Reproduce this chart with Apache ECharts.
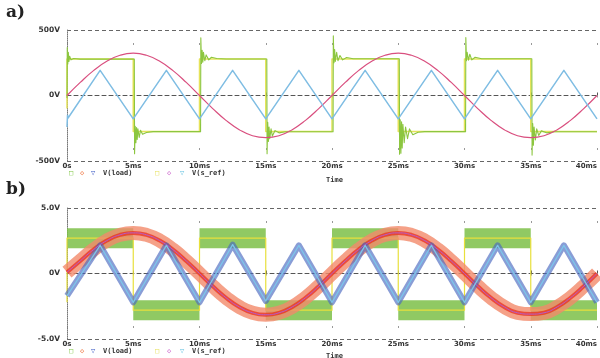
<!DOCTYPE html>
<html>
<head>
<meta charset="utf-8">
<script src="https://cdn.jsdelivr.net/npm/echarts@6/dist/echarts.min.js"></script>
<style>
  html, body { margin: 0; padding: 0; background: #fff; }
  #chart { width: 600px; height: 358px; }
</style>
</head>
<body>
<div id="chart"></div>
<script>
// tick labels
const timeTicks = ['0s', '5ms', '10ms', '15ms', '20ms', '25ms', '30ms', '35ms', '40ms'];
const yTicksA = ['-500V', '0V', '500V'];
const yTicksB = ['-5.0V', '0V', '5.0V'];

// time base for the sampled sines (ms)
const tSine = [0, 1, 2, 3, 4, 5, 6, 7, 8, 9, 10, 11, 12, 13, 14, 15, 16, 17, 18, 19, 20,
               21, 22, 23, 24, 25, 26, 27, 28, 29, 30, 31, 32, 33, 34, 35, 36, 37, 38, 39, 40];

// ---- panel a (V) ----
const aSine = [0, 100, 190, 261, 307, 323, 307, 261, 190, 100, 0, -100, -190, -261, -307, -321, -307, -261, -190, -100,
               0, 100, 190, 261, 307, 323, 307, 261, 190, 100, 0, -100, -190, -261, -307, -321, -307, -261, -190, -100, 0];

const aTri = [[0, -240], [0.04, -150], [0.08, -172], [2.5, 192], [5, -178], [7.5, 192], [10, -178], [12.5, 192],
              [15, -178], [17.5, 192], [20, -178], [22.5, 192], [25, -178], [27.5, 192], [30, -178], [32.5, 192],
              [35, -178], [37.5, 192], [40, -178]];

const aRef = [[0, -100], [0, 278], [5, 278], [5, -275], [10, -275], [10, 278], [15, 278], [15, -275], [20, -275],
              [20, 278], [25, 278], [25, -275], [30, -275], [30, 278], [35, 278], [35, -275], [40, -275]];

const aLoad = [
  [0, -20], [0.02, 366], [0.06, 240], [0.1, 330], [0.15, 260], [0.2, 300], [0.3, 272], [0.5, 282], [1, 278],
  [5.08, 278], [5.1, -445], [5.15, -235], [5.2, -360], [5.25, -245], [5.3, -335], [5.35, -255], [5.45, -320],
  [5.55, -265], [5.7, -295], [6, -282], [6.5, -276],
  [10.08, -276], [10.1, 440], [10.15, 245], [10.2, 345], [10.25, 255], [10.3, 330], [10.4, 265], [10.5, 310],
  [10.7, 272], [10.9, 292], [11.3, 282], [12, 279],
  [15.08, 279], [15.1, -445], [15.15, -205], [15.2, -350], [15.25, -240], [15.3, -330], [15.4, -255],
  [15.5, -310], [15.7, -268], [16, -285], [16.5, -277],
  [20.08, -277], [20.1, 455], [20.15, 250], [20.2, 350], [20.25, 260], [20.35, 330], [20.45, 265],
  [20.6, 305], [20.8, 272], [21.1, 290], [21.6, 280],
  [25.08, 280], [25.1, -448], [25.15, -185], [25.2, -440], [25.25, -200], [25.3, -400], [25.35, -220],
  [25.45, -360], [25.55, -240], [25.7, -330], [25.85, -255], [26.1, -300], [26.5, -280], [27, -276],
  [30.08, -276], [30.1, 443], [30.15, 265], [30.2, 330], [30.3, 270], [30.4, 315], [30.55, 272],
  [30.8, 292], [31.3, 281],
  [35.08, 281], [35.1, -455], [35.15, -215], [35.2, -380], [35.25, -240], [35.35, -340], [35.45, -255],
  [35.6, -305], [35.8, -270], [36.2, -285], [36.8, -277],
  [40, -277]
];

// ---- panel b (V) ----
const bSine = [0.1, 0.96, 1.82, 2.51, 2.95, 3.1, 2.95, 2.51, 1.82, 0.96, 0, -0.97, -1.85, -2.55, -3.0, -3.15, -3.0, -2.55, -1.85, -0.97,
               0, 0.96, 1.82, 2.51, 2.95, 3.1, 2.95, 2.51, 1.82, 0.96, 0, -0.97, -1.85, -2.55, -3.0, -3.1, -3.0, -2.55, -1.85, -0.97, 0];

const bTri = [[0, -1.7], [2.5, 2.15], [5, -2.2], [7.5, 2.15], [10, -2.2], [12.5, 2.2], [15, -2.1], [17.5, 2.15],
              [20, -2.2], [22.5, 2.15], [25, -2.2], [27.5, 2.15], [30, -2.2], [32.5, 2.15], [35, -2.2], [37.5, 2.15],
              [40, -2.2]];

const bRef = [[0, -2.2], [0, 2.7], [5, 2.7], [5, -2.8], [10, -2.8], [10, 2.7], [15, 2.7], [15, -2.8], [20, -2.8],
              [20, 2.7], [25, 2.7], [25, -2.8], [30, -2.8], [30, 2.7], [35, 2.7], [35, -2.8], [40, -2.8]];

// switched output: plateaus only (null = break between plateaus)
const bLoad = [[0, 2.7], [5, 2.7], [5, null], [5, -2.8], [10, -2.8], [10, null], [10, 2.7], [15, 2.7], [15, null],
               [15, -2.8], [20, -2.8], [20, null], [20, 2.7], [25, 2.7], [25, null], [25, -2.8], [30, -2.8], [30, null],
               [30, 2.7], [35, 2.7], [35, null], [35, -2.8], [40, -2.8]];

const pair = (ts, vs) => ts.map((t, i) => [t, vs[i]]);

const labelFont = { fontFamily: 'DejaVu Sans', fontWeight: 'bold', fontSize: 7, color: '#333' };

function xAxis(gi) {
    return {
        gridIndex: gi, type: 'value', min: 0, max: 40, interval: 5,
        axisLine: { show: true, lineStyle: { color: '#555', type: [4, 3], width: 1 } },
        axisTick: { show: true, inside: true, length: 3, lineStyle: { color: '#555' } },
        axisLabel: Object.assign({ margin: 2, alignMaxLabel: 'right', formatter: v => timeTicks[Math.round(v / 5)] }, labelFont),
        splitLine: { show: true, lineStyle: { color: '#999', type: [2, 50.5], dashOffset: 39.5 } }
    };
}

function yAxis(gi, max, ticks) {
    return {
        gridIndex: gi, type: 'value', min: -max, max: max, interval: max,
        axisLine: { show: true, lineStyle: { color: '#777', type: 'dotted' } },
        axisTick: { show: false },
        axisLabel: Object.assign({ margin: 7, formatter: v => ticks[Math.round(v / max) + 1] }, labelFont, { fontSize: 7.5 }),
        splitLine: { show: true, lineStyle: { color: ['#666', '#bbb', '#666'], type: [4, 3] } }
    };
}

function line(idx, data, color, width, extra) {
    return Object.assign({
        type: 'line', xAxisIndex: idx, yAxisIndex: idx, data: data,
        showSymbol: false, symbol: 'none', silent: true, connectNulls: false,
        lineStyle: { color: color, width: width, join: 'round' }
    }, extra || {});
}

// legend: marker glyphs + trace names
function legendRow(y) {
    const items = [
        { x: 69, t: '□', c: '#7cc540' }, { x: 80, t: '◇', c: '#f08050' }, { x: 91, t: '▽', c: '#3050c0' },
        { x: 103, t: 'V(load)', c: '#333' },
        { x: 155, t: '□', c: '#e6e05a' }, { x: 167, t: '◇', c: '#d070d0' }, { x: 180, t: '▽', c: '#60c0e0' },
        { x: 192, t: 'V(s_ref)', c: '#333' }
    ];
    return items.map(o => ({
        type: 'text', x: o.x, y: y,
        style: { text: o.t, fill: o.c, font: 'bold 7px "DejaVu Sans Mono"', textVerticalAlign: 'middle' }
    }));
}

const chart = echarts.init(document.getElementById('chart'));
chart.setOption({
    animation: false,
    backgroundColor: '#fff',
    grid: [
        { left: 67, top: 30, width: 532, height: 131 },
        { left: 67, top: 208, width: 532, height: 131 }
    ],
    xAxis: [xAxis(0), xAxis(1)],
    yAxis: [yAxis(0, 500, yTicksA), yAxis(1, 5, yTicksB)],
    series: [
        // a)
        line(0, aRef, '#e6e35a', 1.5),
        line(0, aLoad, '#8cc63f', 1.1),
        line(0, pair(tSine, aSine), '#d94f7f', 1.2, { smooth: true }),
        line(0, aTri, '#7fbde3', 1.5),
        // b)
        line(1, bLoad, '#7dbf48', 20, { lineStyle: { color: '#7dbf48', width: 20, cap: 'butt', opacity: 0.85 } }),
        line(1, bRef, '#e8e03c', 1.2),
        line(1, pair(tSine, bSine), '#f28a6a', 14, { smooth: true, lineStyle: { color: '#f28a6a', width: 14, opacity: 0.8 } }),
        line(1, pair(tSine, bSine), '#e8281a', 4, { smooth: true, lineStyle: { color: '#e8281a', width: 4, opacity: 0.7 } }),
        line(1, bTri, '#4a68c0', 6, { lineStyle: { color: '#4a68c0', width: 6, opacity: 0.65, join: 'round' } }),
        line(1, pair(tSine, bSine), '#b85ac8', 1, { smooth: true }),
        line(1, bTri, '#7cc4ea', 1.3)
    ],
    graphic: [
        { type: 'text', x: 6, y: 4, style: { text: 'a)', font: 'bold 17px "DejaVu Serif"', fill: '#222' } },
        { type: 'text', x: 6, y: 181, style: { text: 'b)', font: 'bold 17px "DejaVu Serif"', fill: '#222' } },
        { type: 'text', x: 326, y: 180, style: { text: 'Time', font: 'bold 7px "DejaVu Sans Mono"', fill: '#333', textVerticalAlign: 'middle' } },
        { type: 'text', x: 326, y: 356, style: { text: 'Time', font: 'bold 7px "DejaVu Sans Mono"', fill: '#333', textVerticalAlign: 'middle' } }
    ].concat(legendRow(173), legendRow(351))
});
</script>
</body>
</html>
